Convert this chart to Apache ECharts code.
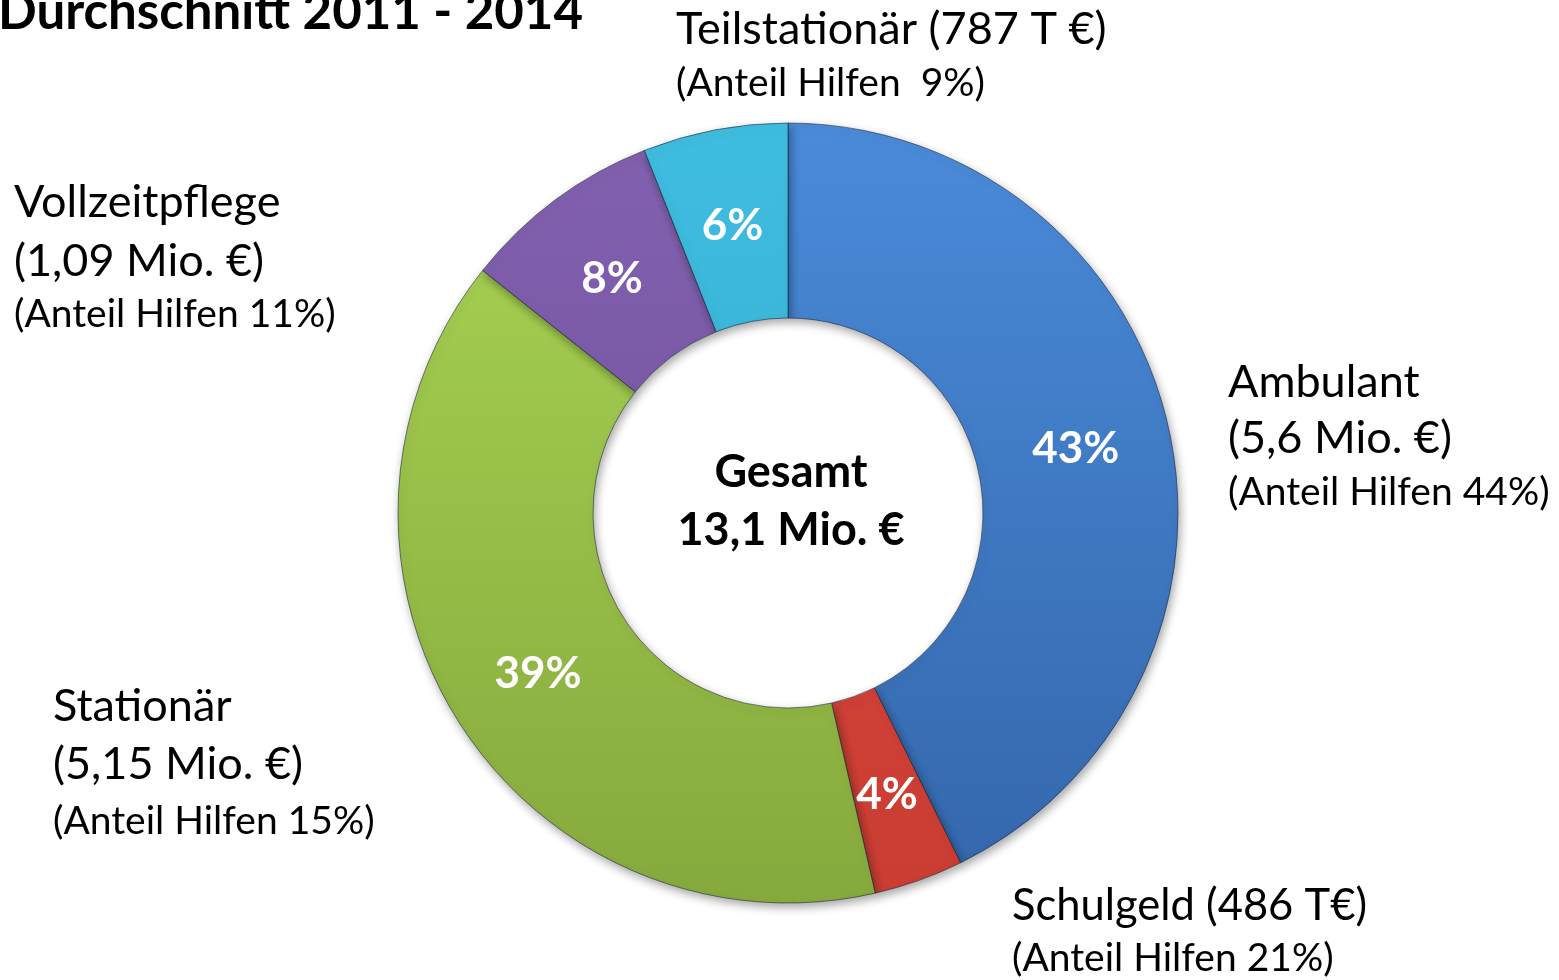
<!DOCTYPE html>
<html>
<head>
<meta charset="utf-8">
<script src="https://cdn.jsdelivr.net/npm/echarts@6/dist/echarts.min.js"></script>
<style>
html,body{margin:0;padding:0;background:#fff;}
#c{width:1559px;height:980px;}
</style>
</head>
<body>
<div id="c"></div>
<script>
// ---- data ----
const categories = ['Ambulant', 'Schulgeld', 'Stationär', 'Vollzeitpflege', 'Teilstationär'];
const valuesMio = [5.6, 0.486, 5.15, 1.09, 0.787];
const amountLabels = ['(5,6 Mio. €)', '(486 T€)', '(5,15 Mio. €)', '(1,09 Mio. €)', '(787 T €)'];
const anteilHilfen = ['44%', '21%', '15%', '11%', ' 9%'];
const titleText = 'Durchschnitt 2011 - 2014';
const totalLabel = 'Gesamt';

// ---- styling ----
const FONT = 'Lato, "Open Sans", sans-serif';
const colorsTop = ['#4a8bd9', '#e0483e', '#a9d454', '#8262b0', '#3fbde0'];
const colorsBottom = ['#3466ab', '#c93d33', '#86a93d', '#6c4c98', '#31a6c9'];
const CX = 788, CY = 513, R_IN = 195, R_OUT = 390;
const K = 0.83; // baseline offset factor for top-aligned text

const chart = echarts.init(document.getElementById('c'), null, {renderer: 'canvas'});

const total = valuesMio.reduce((a, b) => a + b, 0);
const totalText = total.toFixed(1).replace('.', ',') + ' Mio. €';

const pieData = categories.map((name, i) => ({
  name: name,
  value: valuesMio[i],
  itemStyle: {
    color: {
      type: 'linear', x: 0, y: CY - R_OUT, x2: 0, y2: CY + R_OUT, global: true,
      colorStops: [{offset: 0, color: colorsTop[i]}, {offset: 1, color: colorsBottom[i]}]
    }
  }
}));

// outside label layout (positions only): [baselineY, fontSize, kind]
const labelPos = {
  'Ambulant':      {x: 1228, lines: [[397, 45, 'name'], [453, 45, 'amount'], [505, 39, 'anteil']]},
  'Schulgeld':     {x: 1012, lines: [[920, 43.5, 'nameAmount'], [971, 39, 'anteil']]},
  'Stationär':     {x: 53,   lines: [[721, 45, 'name'], [779, 45, 'amount'], [834, 39, 'anteil']]},
  'Vollzeitpflege':{x: 14,   lines: [[217, 45, 'name'], [276, 45, 'amount'], [327, 39, 'anteil']]},
  'Teilstationär': {x: 676,  lines: [[44, 45, 'nameAmount'], [96, 39, 'anteil']]}
};

function txt(x, baseline, size, text, bold, align) {
  return {
    type: 'text', x: x, y: baseline - K * size,
    style: {text: text, font: (bold ? 'bold ' : '') + size + 'px ' + FONT, fill: '#000',
            align: align || 'left', verticalAlign: 'top'}
  };
}

const graphics = [];
categories.forEach((name, i) => {
  const p = labelPos[name];
  p.lines.forEach(([y, size, kind]) => {
    let t;
    if (kind === 'name') t = name;
    else if (kind === 'amount') t = amountLabels[i];
    else if (kind === 'nameAmount') t = name + ' ' + amountLabels[i];
    else t = '(Anteil Hilfen ' + anteilHilfen[i] + ')';
    graphics.push(txt(p.x, y, size, t, false));
  });
});
graphics.push(txt(-2, 29, 51, titleText, true));
graphics.push(txt(CX + 3, 487, 45, totalLabel, true, 'center'));
graphics.push(txt(CX + 3, 545, 45, totalText, true, 'center'));

chart.setOption({
  animation: false,
  backgroundColor: '#ffffff',
  series: [{
    type: 'pie',
    center: [CX, CY],
    radius: [R_IN, R_OUT],
    startAngle: 90,
    clockwise: true,
    percentPrecision: 0,
    avoidLabelOverlap: false,
    labelLine: {show: false},
    itemStyle: {
      borderColor: 'rgba(20,30,50,0.55)', borderWidth: 1,
      shadowBlur: 10, shadowColor: 'rgba(0,0,0,0.35)', shadowOffsetX: 2, shadowOffsetY: 4
    },
    label: {
      show: true, position: 'inside', formatter: '{d}%',
      color: '#fff', fontFamily: FONT, fontWeight: 'bold', fontSize: 44
    },
    labelLayout: {dy: 3},
    emphasis: {disabled: true},
    data: pieData
  }],
  graphic: graphics
});
</script>
</body>
</html>
